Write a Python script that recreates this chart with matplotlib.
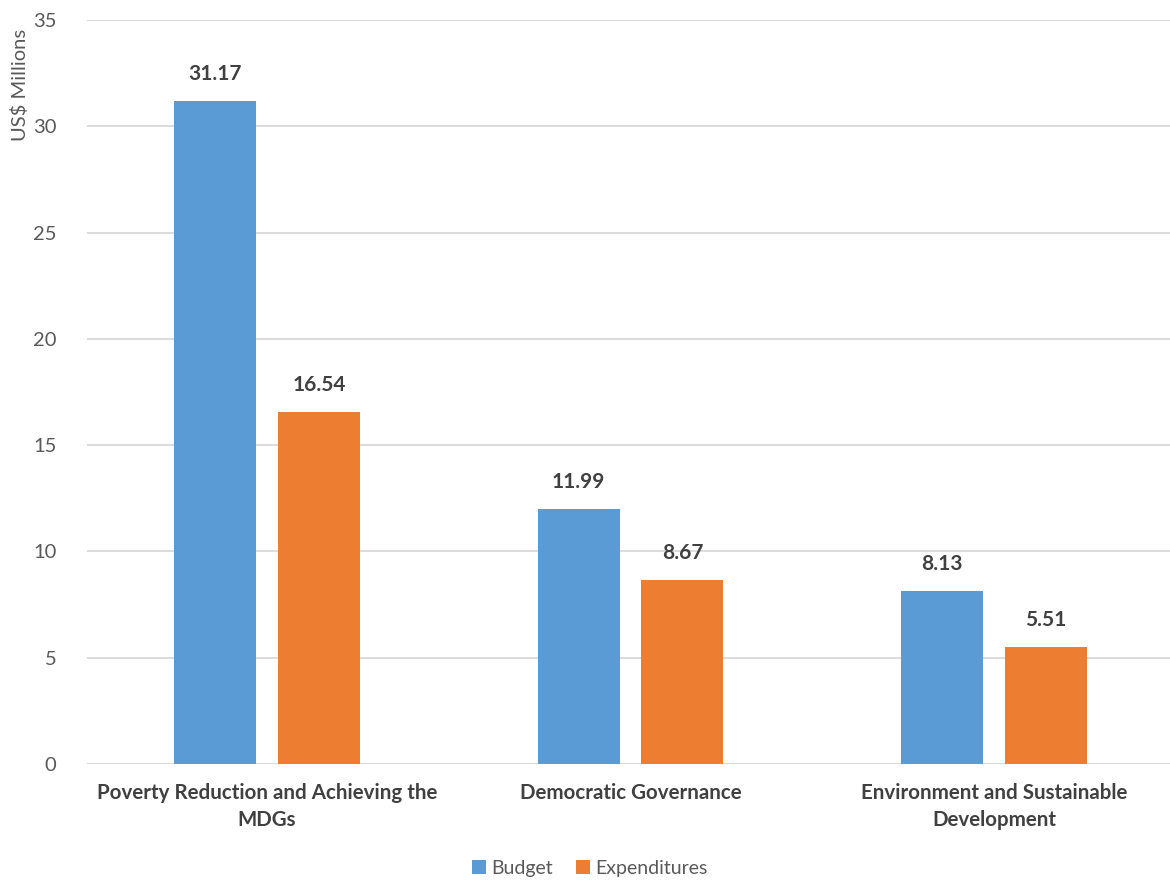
import matplotlib
matplotlib.use("Agg")
import matplotlib.pyplot as plt
import numpy as np

categories = ["Poverty Reduction and Achieving the\nMDGs", "Democratic Governance",
              "Environment and Sustainable\nDevelopment"]
budget = [31.17, 11.99, 8.13]
expenditures = [16.54, 8.67, 5.51]
series_names = ["Budget", "Expenditures"]
colors = ["#5B9BD5", "#ED7D31"]

plt.rcParams['font.family'] = ['Lato', 'DejaVu Sans']

fig = plt.figure(figsize=(11.7, 8.8), dpi=100)
ax = fig.add_axes([87/1170, 1-764/880, (1170-87)/1170, (764-20)/880])

x = np.arange(len(categories))
w = 0.2256
off = 0.143
b1 = ax.bar(x - off, budget, w, color=colors[0], label=series_names[0], zorder=3)
b2 = ax.bar(x + off, expenditures, w, color=colors[1], label=series_names[1], zorder=3)

for bars, vals in ((b1, budget), (b2, expenditures)):
    for r, v in zip(bars, vals):
        ax.text(r.get_x() + r.get_width()/2, v + 0.8, f"{v:.2f}", ha='center', va='bottom',
                fontsize=15, fontweight='bold', color='#404040')

ax.set_xlim(-0.495, 2.484)
ax.set_ylim(0, 35)
ax.set_yticks(range(0, 36, 5))
ax.grid(axis='y', color='#D9D9D9', linewidth=1.3, zorder=0)
for s in ax.spines.values():
    s.set_visible(False)
ax.tick_params(axis='y', length=0, labelsize=14.5, labelcolor='#595959', pad=22)
ax.tick_params(axis='x', length=0, pad=14)
ax.set_xticks(x)
ax.set_xticklabels(categories, fontsize=14.8, fontweight='bold', color='#404040', linespacing=1.4)

fig.text(20/1170, 1-85/880, "US$ Millions", rotation=90, ha='center', va='center',
         fontsize=14.5, color='#595959')

fig.legend(handles=[b1, b2], labels=series_names, loc='center', bbox_to_anchor=(590/1170, 1-868/880),
           ncol=2, frameon=False, fontsize=14, labelcolor='#595959', handlelength=0.7,
           handleheight=0.7, handletextpad=0.3, columnspacing=1.2)

fig.savefig("out.png", dpi=100)
